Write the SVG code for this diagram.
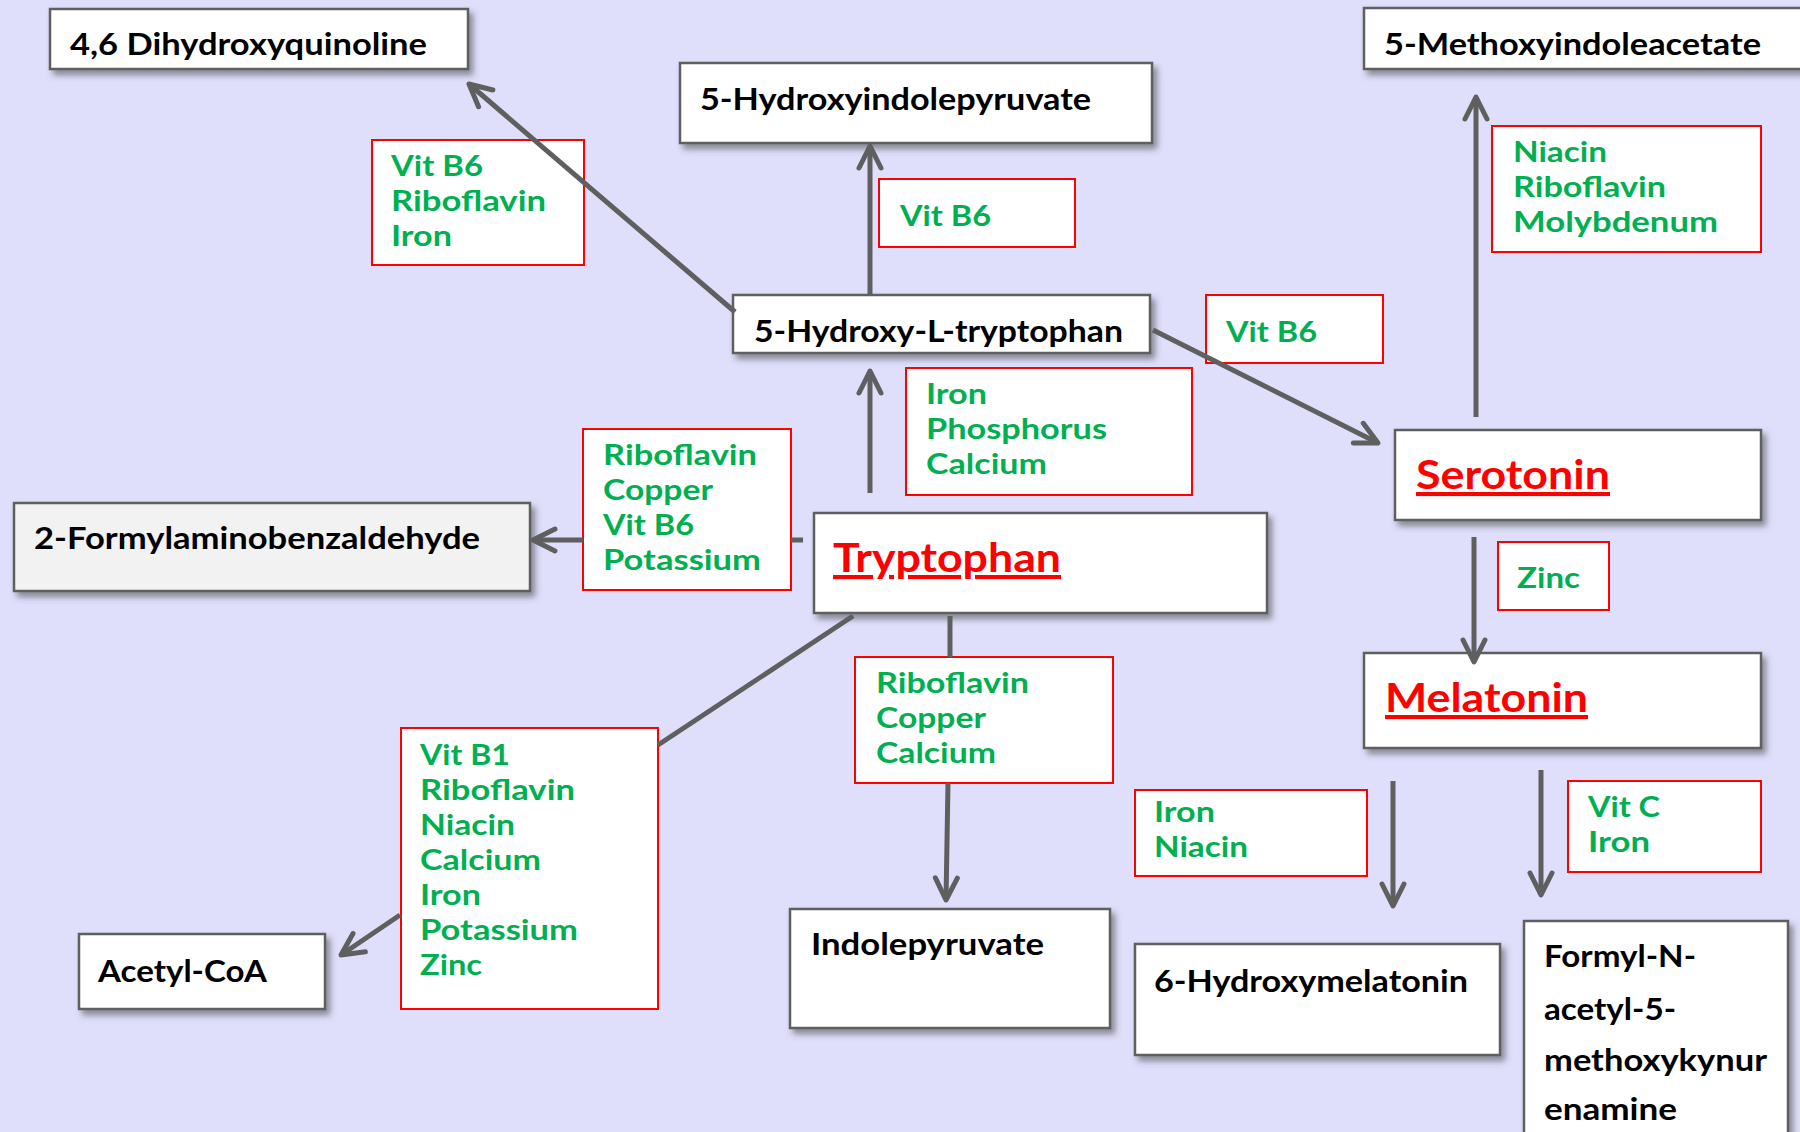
<svg xmlns="http://www.w3.org/2000/svg" width="1800" height="1132" viewBox="0 0 1800 1132">
<defs>
<style>
.bg{fill:#DFDFFC}
.node{fill:#FFFFFF;stroke:#5F5F5F;stroke-width:2.5;filter:url(#sh)}
.gray{fill:#F2F2F2}
.cof{fill:#FFFFFF;stroke:#FF0000;stroke-width:2}
text{font-family:"Lato","Liberation Sans",sans-serif;font-weight:bold}
.nt{font-size:31px;fill:#000000}
.mt{font-size:41px;fill:#FF0000;text-decoration:underline}
.ct{font-size:28.5px;fill:#00B050}
.con{fill:none;stroke:#5F5F5F;stroke-width:5}
.arr{marker-end:url(#ah)}
</style>
<filter id="sh" x="-10%" y="-20%" width="130%" height="160%">
<feDropShadow dx="4" dy="5" stdDeviation="3" flood-color="#404040" flood-opacity="0.55"/>
</filter>
<marker id="ah" markerUnits="userSpaceOnUse" markerWidth="40" markerHeight="40" viewBox="-30 -20 40 40" refX="0" refY="0" orient="auto" overflow="visible">
<path d="M-22,-11 L0,0 L-22,11" fill="none" stroke="#5F5F5F" stroke-width="5" stroke-linecap="round" stroke-linejoin="round"/>
</marker>
</defs>
<rect class="bg" x="0" y="0" width="1800" height="1132"/>

<g id="nodes">
<g id="n-dhq"><rect class="node" x="50" y="9" width="418" height="60"/><text class="nt" x="70" y="55" textLength="357" lengthAdjust="spacingAndGlyphs">4,6 Dihydroxyquinoline</text></g>
<g id="n-hip"><rect class="node" x="680" y="63" width="472" height="80"/><text class="nt" x="700" y="110" textLength="391" lengthAdjust="spacingAndGlyphs">5-Hydroxyindolepyruvate</text></g>
<g id="n-htp"><rect class="node" x="733" y="295" width="417" height="58"/><text class="nt" x="754" y="342" textLength="369" lengthAdjust="spacingAndGlyphs">5-Hydroxy-L-tryptophan</text></g>
<g id="n-miaa"><rect class="node" x="1364" y="8" width="450" height="61"/><text class="nt" x="1384" y="55" textLength="377" lengthAdjust="spacingAndGlyphs">5-Methoxyindoleacetate</text></g>
<g id="n-ser"><rect class="node" x="1395" y="430" width="366" height="90"/><text class="mt" x="1416" y="489" textLength="194" lengthAdjust="spacingAndGlyphs">Serotonin</text></g>
<g id="n-trp"><rect class="node" x="814" y="513" width="453" height="100"/><text class="mt" x="833" y="572" textLength="228" lengthAdjust="spacingAndGlyphs">Tryptophan</text></g>
<g id="n-mel"><rect class="node" x="1364" y="653" width="397" height="95"/><text class="mt" x="1385" y="712" textLength="203" lengthAdjust="spacingAndGlyphs">Melatonin</text></g>
<g id="n-fab"><rect class="node gray" x="14" y="503" width="516" height="88"/><text class="nt" x="34" y="549" textLength="446" lengthAdjust="spacingAndGlyphs">2-Formylaminobenzaldehyde</text></g>
<g id="n-acoa"><rect class="node" x="79" y="934" width="246" height="75"/><text class="nt" x="98" y="982" textLength="169" lengthAdjust="spacingAndGlyphs">Acetyl-CoA</text></g>
<g id="n-ipy"><rect class="node" x="790" y="909" width="320" height="119"/><text class="nt" x="811" y="955" textLength="233" lengthAdjust="spacingAndGlyphs">Indolepyruvate</text></g>
<g id="n-6hm"><rect class="node" x="1135" y="944" width="365" height="111"/><text class="nt" x="1154" y="992" textLength="314" lengthAdjust="spacingAndGlyphs">6-Hydroxymelatonin</text></g>
<g id="n-famk"><rect class="node" x="1524" y="921" width="264" height="230"/>
<text class="nt" x="1544" y="967" textLength="152" lengthAdjust="spacingAndGlyphs">Formyl-N-</text>
<text class="nt" x="1544" y="1020" textLength="132" lengthAdjust="spacingAndGlyphs">acetyl-5-</text>
<text class="nt" x="1544" y="1071" textLength="223" lengthAdjust="spacingAndGlyphs">methoxykynur</text>
<text class="nt" x="1544" y="1120" textLength="133" lengthAdjust="spacingAndGlyphs">enamine</text></g>
</g>

<g id="cofactors">
<g id="c-a"><rect class="cof" x="372" y="140" width="212" height="125"/>
<text class="ct" x="391" y="176" textLength="92" lengthAdjust="spacingAndGlyphs">Vit B6</text>
<text class="ct" x="391" y="211" textLength="155" lengthAdjust="spacingAndGlyphs">Riboflavin</text>
<text class="ct" x="391" y="246" textLength="61" lengthAdjust="spacingAndGlyphs">Iron</text></g>
<g id="c-b"><rect class="cof" x="879" y="179" width="196" height="68"/>
<text class="ct" x="900" y="226" textLength="91" lengthAdjust="spacingAndGlyphs">Vit B6</text></g>
<g id="c-c"><rect class="cof" x="1206" y="295" width="177" height="68"/>
<text class="ct" x="1226" y="342" textLength="91" lengthAdjust="spacingAndGlyphs">Vit B6</text></g>
<g id="c-d"><rect class="cof" x="1492" y="126" width="269" height="126"/>
<text class="ct" x="1513" y="162" textLength="94" lengthAdjust="spacingAndGlyphs">Niacin</text>
<text class="ct" x="1513" y="197" textLength="153" lengthAdjust="spacingAndGlyphs">Riboflavin</text>
<text class="ct" x="1513" y="232" textLength="205" lengthAdjust="spacingAndGlyphs">Molybdenum</text></g>
<g id="c-e"><rect class="cof" x="906" y="368" width="286" height="127"/>
<text class="ct" x="926" y="404" textLength="61" lengthAdjust="spacingAndGlyphs">Iron</text>
<text class="ct" x="926" y="439" textLength="181" lengthAdjust="spacingAndGlyphs">Phosphorus</text>
<text class="ct" x="926" y="474" textLength="121" lengthAdjust="spacingAndGlyphs">Calcium</text></g>
<g id="c-f"><rect class="cof" x="583" y="429" width="208" height="161"/>
<text class="ct" x="603" y="465" textLength="154" lengthAdjust="spacingAndGlyphs">Riboflavin</text>
<text class="ct" x="603" y="500" textLength="110" lengthAdjust="spacingAndGlyphs">Copper</text>
<text class="ct" x="603" y="535" textLength="91" lengthAdjust="spacingAndGlyphs">Vit B6</text>
<text class="ct" x="603" y="570" textLength="158" lengthAdjust="spacingAndGlyphs">Potassium</text></g>
<g id="c-g"><rect class="cof" x="855" y="657" width="258" height="126"/>
<text class="ct" x="876" y="693" textLength="153" lengthAdjust="spacingAndGlyphs">Riboflavin</text>
<text class="ct" x="876" y="728" textLength="110" lengthAdjust="spacingAndGlyphs">Copper</text>
<text class="ct" x="876" y="763" textLength="120" lengthAdjust="spacingAndGlyphs">Calcium</text></g>
<g id="c-h"><rect class="cof" x="401" y="728" width="257" height="281"/>
<text class="ct" x="420" y="765" textLength="90" lengthAdjust="spacingAndGlyphs">Vit B1</text>
<text class="ct" x="420" y="800" textLength="155" lengthAdjust="spacingAndGlyphs">Riboflavin</text>
<text class="ct" x="420" y="835" textLength="95" lengthAdjust="spacingAndGlyphs">Niacin</text>
<text class="ct" x="420" y="870" textLength="121" lengthAdjust="spacingAndGlyphs">Calcium</text>
<text class="ct" x="420" y="905" textLength="61" lengthAdjust="spacingAndGlyphs">Iron</text>
<text class="ct" x="420" y="940" textLength="158" lengthAdjust="spacingAndGlyphs">Potassium</text>
<text class="ct" x="420" y="975" textLength="62" lengthAdjust="spacingAndGlyphs">Zinc</text></g>
<g id="c-i"><rect class="cof" x="1498" y="542" width="111" height="68"/>
<text class="ct" x="1517" y="588" textLength="63" lengthAdjust="spacingAndGlyphs">Zinc</text></g>
<g id="c-j"><rect class="cof" x="1135" y="790" width="232" height="86"/>
<text class="ct" x="1154" y="822" textLength="61" lengthAdjust="spacingAndGlyphs">Iron</text>
<text class="ct" x="1154" y="857" textLength="94" lengthAdjust="spacingAndGlyphs">Niacin</text></g>
<g id="c-k"><rect class="cof" x="1568" y="781" width="193" height="91"/>
<text class="ct" x="1588" y="817" textLength="72" lengthAdjust="spacingAndGlyphs">Vit C</text>
<text class="ct" x="1588" y="852" textLength="62" lengthAdjust="spacingAndGlyphs">Iron</text></g>
</g>

<g id="connectors">
<path class="con arr" d="M735,312 L469,84"/>
<path class="con arr" d="M870,295 L870,146"/>
<path class="con arr" d="M870,493 L870,371"/>
<path class="con arr" d="M1153,330 L1378,443"/>
<path class="con arr" d="M1476,417 L1476,97"/>
<path class="con arr" d="M1474,537 L1474,662"/>
<path class="con" d="M803,540 L791,540"/>
<path class="con arr" d="M583,540 L533,540"/>
<path class="con" d="M853,616 L658,745"/>
<path class="con arr" d="M400,915 L341,955"/>
<path class="con" d="M950,616 L950,657"/>
<path class="con arr" d="M948,783 L946,900"/>
<path class="con arr" d="M1393,781 L1393,906"/>
<path class="con arr" d="M1541,770 L1541,895"/>
</g>
</svg>
